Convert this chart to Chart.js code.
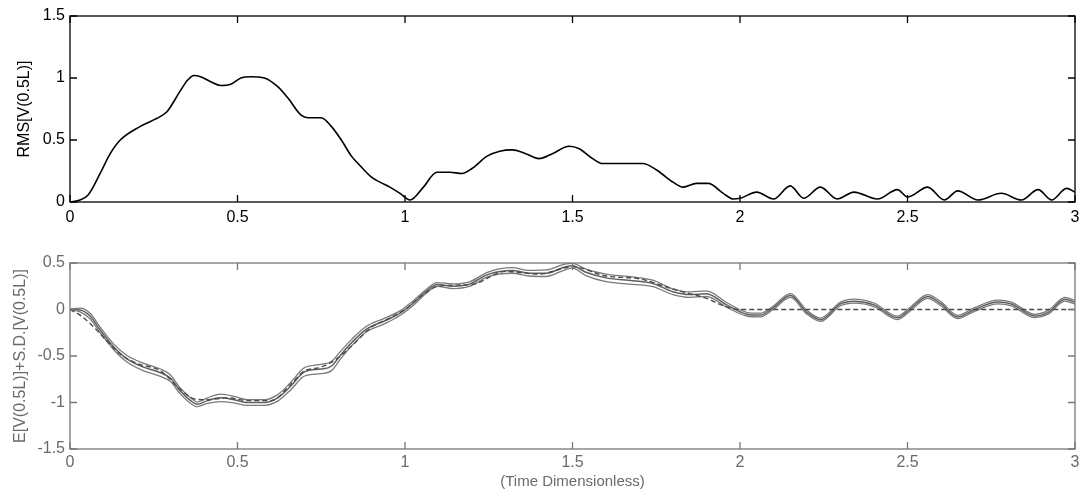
<!DOCTYPE html>
<html>
<head>
<meta charset="utf-8">
<script src="https://cdn.jsdelivr.net/npm/chart.js@4/dist/chart.umd.min.js"></script>
<style>
  html, body { margin: 0; padding: 0; background: #fff; }
  #wrap { position: relative; width: 1082px; height: 499px; overflow: hidden; }
  canvas { position: absolute; left: 0; }
  #rmsChart { top: 0; }
  #meanChart { top: 232px; }
</style>
</head>
<body>
<div id="wrap">
  <canvas id="rmsChart" width="1082" height="232"></canvas>
  <canvas id="meanChart" width="1082" height="267"></canvas>
</div>
<script>
// Shared time axis ticks
const xTicks = [0, 0.5, 1, 1.5, 2, 2.5, 3];
const rmsTicks = [0, 0.5, 1, 1.5];
const meanTicks = [-1.5, -1, -0.5, 0, 0.5];

// RMS of the mid-span response
const tRms = [0, 0.03, 0.054, 0.09, 0.12, 0.15, 0.21, 0.27, 0.29, 0.33,
  0.35, 0.37, 0.39, 0.42, 0.45, 0.48, 0.51, 0.54, 0.58, 0.62,
  0.65, 0.69, 0.71, 0.75, 0.78, 0.81, 0.84, 0.86, 0.90, 0.925,
  0.955, 0.985, 1.015, 1.055, 1.095, 1.134, 1.17, 1.20, 1.245, 1.283,
  1.32, 1.36, 1.40, 1.44, 1.49, 1.52, 1.56, 1.59, 1.71, 1.75,
  1.80, 1.83, 1.87, 1.905, 1.95, 1.98, 2.0, 2.05, 2.10, 2.15,
  2.19, 2.24, 2.29, 2.34, 2.41, 2.47, 2.50, 2.56, 2.61, 2.65,
  2.71, 2.78, 2.84, 2.89, 2.93, 2.975, 3.0];
const rms = [0, 0.016, 0.056, 0.23, 0.39, 0.5, 0.61, 0.69, 0.73, 0.9,
  0.98, 1.02, 1.01, 0.97, 0.94, 0.95, 1.0, 1.01, 1.0, 0.93,
  0.84, 0.70, 0.68, 0.68, 0.61, 0.5, 0.37, 0.31, 0.2, 0.16,
  0.12, 0.07, 0.016, 0.12, 0.24, 0.24, 0.23, 0.27, 0.37, 0.41,
  0.42, 0.39, 0.35, 0.39, 0.45, 0.43, 0.35, 0.31, 0.31, 0.26,
  0.16, 0.12, 0.15, 0.15, 0.07, 0.024, 0.03, 0.08, 0.024, 0.13,
  0.03, 0.12, 0.024, 0.08, 0.024, 0.1, 0.04, 0.12, 0.016, 0.09,
  0.016, 0.07, 0.016, 0.1, 0.016, 0.11, 0.08];

// Expected value and standard deviation of the mid-span response
const tE = [0, 0.03, 0.06, 0.09, 0.13, 0.17, 0.22, 0.27, 0.30, 0.33,
  0.36, 0.38, 0.41, 0.45, 0.49, 0.53, 0.58, 0.62, 0.66, 0.70,
  0.75, 0.78, 0.81, 0.845, 0.885, 0.935, 0.985, 1.025, 1.065, 1.095,
  1.143, 1.19, 1.25, 1.32, 1.37, 1.42, 1.48, 1.50, 1.54, 1.60,
  1.68, 1.74, 1.80, 1.85, 1.90, 1.96, 2.02, 2.06, 2.10, 2.15,
  2.20, 2.24, 2.30, 2.34, 2.40, 2.47, 2.51, 2.56, 2.60, 2.65,
  2.70, 2.77, 2.81, 2.88, 2.92, 2.97, 3.0];
const eMean = [0, -0.005, -0.07, -0.22, -0.40, -0.53, -0.62, -0.68, -0.74, -0.88,
  -0.98, -1.02, -0.98, -0.95, -0.97, -1.0, -1.0, -0.95, -0.82, -0.67,
  -0.64, -0.61, -0.48, -0.34, -0.21, -0.13, -0.04, 0.07, 0.20, 0.27,
  0.25, 0.27, 0.38, 0.42, 0.39, 0.39, 0.46, 0.47, 0.40, 0.34,
  0.31, 0.28, 0.19, 0.16, 0.17, 0.05, -0.05, -0.06, 0.02, 0.15,
  -0.03, -0.11, 0.06, 0.09, 0.05, -0.09, 0.01, 0.14, 0.06, -0.08,
  0.0, 0.08, 0.06, -0.07, -0.03, 0.11, 0.08];
const sDev = [0.005, 0.02, 0.03, 0.03, 0.03, 0.035, 0.04, 0.04, 0.035, 0.03,
  0.03, 0.025, 0.03, 0.04, 0.035, 0.03, 0.03, 0.035, 0.04, 0.045,
  0.05, 0.05, 0.04, 0.035, 0.03, 0.03, 0.025, 0.025, 0.02, 0.02,
  0.025, 0.025, 0.025, 0.03, 0.03, 0.035, 0.03, 0.025, 0.035, 0.04,
  0.04, 0.035, 0.03, 0.03, 0.03, 0.025, 0.02, 0.02, 0.018, 0.02,
  0.02, 0.018, 0.02, 0.022, 0.02, 0.018, 0.02, 0.02, 0.022, 0.018,
  0.02, 0.02, 0.02, 0.018, 0.02, 0.02, 0.02];

// Deterministic response (dashed)
const tDet = [0, 0.03, 0.06, 0.1, 0.15, 0.2, 0.27, 0.33, 0.37, 0.41,
  0.47, 0.53, 0.6, 0.66, 0.7, 0.75, 0.8, 0.85, 0.9, 0.95,
  1.0, 1.05, 1.1, 1.2, 1.3, 1.4, 1.5, 1.6, 1.7, 1.8,
  1.85, 1.9, 1.95, 2.0, 2.5, 3.0];
const vDet = [0, -0.06, -0.15, -0.3, -0.48, -0.58, -0.66, -0.86, -0.96, -0.97,
  -0.95, -0.98, -0.98, -0.8, -0.66, -0.62, -0.52, -0.36, -0.19, -0.1,
  0.0, 0.15, 0.25, 0.27, 0.41, 0.38, 0.46, 0.36, 0.33, 0.22,
  0.17, 0.12, 0.04, 0.0, 0.0, 0.0];

const pts = (xs, ys) => xs.map((x, i) => ({ x: x, y: ys[i] }));
const FONT = "'Liberation Sans', Arial, sans-serif";
const plainLabel = v => String(v);

// Boxed frame with inward ticks on all four sides
function framePlugin(color) {
  return {
    id: 'frame',
    afterDraw(chart) {
      const { ctx, chartArea: a, scales } = chart;
      const len = 7;
      ctx.save();
      ctx.strokeStyle = color;
      ctx.lineWidth = 1.3;
      ctx.strokeRect(a.left, a.top, a.right - a.left, a.bottom - a.top);
      ctx.beginPath();
      scales.x.ticks.forEach(t => {
        const px = scales.x.getPixelForValue(t.value);
        ctx.moveTo(px, a.bottom); ctx.lineTo(px, a.bottom - len);
        ctx.moveTo(px, a.top); ctx.lineTo(px, a.top + len);
      });
      scales.y.ticks.forEach(t => {
        const py = scales.y.getPixelForValue(t.value);
        ctx.moveTo(a.left, py); ctx.lineTo(a.left + len, py);
        ctx.moveTo(a.right, py); ctx.lineTo(a.right - len, py);
      });
      ctx.stroke();
      ctx.restore();
    }
  };
}

function zeroPad(s) {
  s.paddingLeft = 0; s.paddingRight = 0; s.paddingTop = 0; s.paddingBottom = 0;
}

function xScale(color, xHeight, padTick, title) {
  return {
    type: 'linear', min: 0, max: 3,
    afterBuildTicks: s => { s.ticks = xTicks.map(v => ({ value: v })); },
    afterFit: s => { s.height = xHeight; zeroPad(s); },
    grid: { display: false, drawTicks: false },
    border: { display: false },
    ticks: { color: color, font: { family: FONT, size: 16 }, padding: padTick,
             maxRotation: 0, autoSkip: false, callback: plainLabel },
    title: title
  };
}

function yScale(color, lo, hi, tickVals, titleText, titlePad) {
  return {
    type: 'linear', min: lo, max: hi,
    afterBuildTicks: s => { s.ticks = tickVals.map(v => ({ value: v })); },
    afterFit: s => { s.width = 70; zeroPad(s); },
    grid: { display: false, drawTicks: false },
    border: { display: false },
    ticks: { color: color, font: { family: FONT, size: 16 }, padding: 5,
             callback: plainLabel },
    title: { display: true, text: titleText, color: color,
             font: { family: FONT, size: 16 }, padding: { top: titlePad, bottom: 0 } }
  };
}

const common = {
  responsive: false,
  animation: false,
  events: [],
  plugins: { legend: { display: false }, tooltip: { enabled: false } },
  elements: { point: { radius: 0 }, line: { cubicInterpolationMode: 'monotone' } }
};

// Upper plot: RMS[V(0.5L)]
new Chart(document.getElementById('rmsChart'), {
  type: 'line',
  data: {
    datasets: [{
      data: pts(tRms, rms),
      borderColor: '#000', borderWidth: 1.6, fill: false
    }]
  },
  options: Object.assign({}, common, {
    layout: { padding: { top: 16, right: 7, left: 0, bottom: 0 } },
    scales: {
      x: xScale('#000', 30, 6, { display: false }),
      y: yScale('#000', 0, 1.5, rmsTicks, 'RMS[V(0.5L)]', 15)
    }
  }),
  plugins: [framePlugin('#000')]
});

// Lower plot: E[V(0.5L)] with S.D. band and deterministic response
const gray = '#6a6a6a';
new Chart(document.getElementById('meanChart'), {
  type: 'line',
  data: {
    datasets: [
      { data: pts(tDet, vDet), borderColor: '#4a4a4a', borderWidth: 1.4,
        borderDash: [5, 3], fill: false },
      { data: pts(tE, eMean.map((v, i) => v + sDev[i])), borderColor: '#7a7a7a',
        borderWidth: 1.3, fill: false },
      { data: pts(tE, eMean.map((v, i) => v - sDev[i])), borderColor: '#7a7a7a',
        borderWidth: 1.3, fill: false },
      { data: pts(tE, eMean), borderColor: '#5f5f5f', borderWidth: 1.5, fill: false }
    ]
  },
  options: Object.assign({}, common, {
    layout: { padding: { top: 31, right: 7, left: 0, bottom: 0 } },
    scales: {
      x: xScale(gray, 50, 4, { display: true, text: '(Time Dimensionless)', color: gray,
        font: { family: FONT, size: 15 }, padding: { top: 0, bottom: 8 } }),
      y: yScale(gray, -1.5, 0.5, meanTicks, 'E[V(0.5L)]+S.D.[V(0.5L)]', 11)
    }
  }),
  plugins: [framePlugin('#777')]
});
</script>
</body>
</html>
